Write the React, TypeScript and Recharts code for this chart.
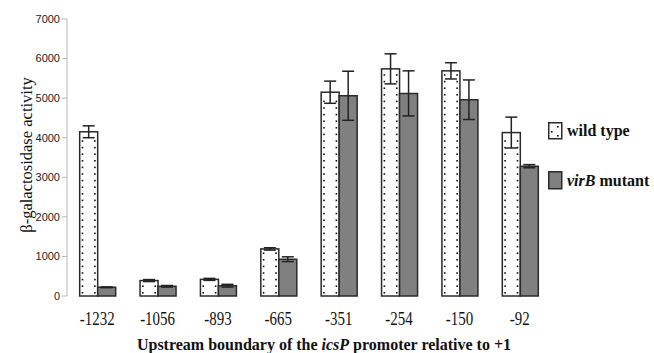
import React from "react";
import { BarChart, Bar, XAxis, YAxis, ErrorBar, Legend } from "recharts";

const categories = ["-1232", "-1056", "-893", "-665", "-351", "-254", "-150", "-92"];
const wildType = [4150, 390, 420, 1190, 5150, 5740, 5690, 4130];
const wildTypeErr = [150, 25, 25, 30, 280, 380, 205, 390];
const virBMutant = [220, 245, 260, 930, 5060, 5120, 4960, 3280];
const virBMutantErr = [10, 20, 35, 60, 620, 570, 500, 40];
const yTicks = [0, 1000, 2000, 3000, 4000, 5000, 6000, 7000];
const boundaryTicks = [0, 1, 2, 3, 4, 5, 6, 7, 8];

const data = categories.map((c, i) => ({
  pos: c,
  wt: wildType[i],
  wtErr: wildTypeErr[i],
  mut: virBMutant[i],
  mutErr: virBMutantErr[i],
}));

const SERIF = "Liberation Serif";
const SANS = "Liberation Sans";
const AXIS = "#b4b4b4";

// white bar with two columns of dots
function DottedBar(props: any) {
  const { x, y, width, height } = props;
  if (!height || height <= 0) return null;
  const dots = [];
  for (let yy = y + height - 4; yy > y + 2; yy -= 6.6) {
    dots.push(<rect key={`a${yy}`} x={x + 2} y={yy} width={1.6} height={1.6} fill="#111" />);
    dots.push(<rect key={`b${yy}`} x={x + width - 3.6} y={yy} width={1.6} height={1.6} fill="#111" />);
  }
  return (
    <g>
      <rect x={x} y={y} width={width} height={height} fill="#fff" stroke="#2a2a2a" strokeWidth={1.5} />
      {dots}
    </g>
  );
}

function XTick(props: any) {
  const { x, payload } = props;
  return (
    <text
      transform={`translate(${x},325) scale(0.83,1)`}
      textAnchor="middle"
      fontFamily={SERIF}
      fontSize={18}
      fill="#111"
    >
      {payload.value}
    </text>
  );
}

function LegendBox() {
  return (
    <svg width={110} height={72} style={{ display: "block" }}>
      <rect x={0.75} y={0.75} width={13} height={16} fill="#fff" stroke="#2a2a2a" strokeWidth={1.5} />
      <rect x={9} y={4} width={1.6} height={1.6} fill="#111" />
      <rect x={3} y={9} width={1.6} height={1.6} fill="#111" />
      <rect x={9} y={13} width={1.6} height={1.6} fill="#111" />
      <text x={19} y={14} fontFamily={SERIF} fontSize={16} fontWeight="bold" fill="#111">
        wild type
      </text>
      <rect x={0.75} y={49.75} width={13} height={17} fill="#808080" stroke="#2a2a2a" strokeWidth={1.5} />
      <text x={19} y={64} fontFamily={SERIF} fontSize={16} fontWeight="bold" fill="#111">
        <tspan fontStyle="italic">virB</tspan> mutant
      </text>
    </svg>
  );
}

export default function App() {
  return (
    <div style={{ position: "absolute", left: 0, top: 0, width: 654, height: 353, background: "#fff" }}>
      <BarChart
        width={654}
        height={353}
        data={data}
        margin={{ top: 19, right: 104, bottom: 0, left: 0 }}
        barCategoryGap="21%"
        barGap={0}
      >
        <XAxis
          xAxisId="grid"
          type="number"
          domain={[0, 8]}
          ticks={boundaryTicks}
          height={0}
          axisLine={{ stroke: AXIS }}
          tickLine={{ stroke: AXIS }}
          tickSize={6}
          tick={() => <g />}
        />
        <XAxis
          xAxisId="cat"
          dataKey="pos"
          height={57}
          axisLine={false}
          tickLine={false}
          tick={<XTick />}
          interval={0}
          label={{
            content: () => (
              <text x={324} y={350} textAnchor="middle" fontFamily={SERIF} fontSize={16} fontWeight="bold" fill="#111">
                Upstream boundary of the <tspan fontStyle="italic">icsP</tspan> promoter relative to +1
              </text>
            ),
          }}
        />
        <YAxis
          width={67}
          domain={[0, 7000]}
          ticks={yTicks}
          interval={0}
          axisLine={{ stroke: AXIS }}
          tickLine={{ stroke: AXIS }}
          tickSize={5}
          tickMargin={2}
          tick={{ fontFamily: SANS, fontSize: 11, fill: "#222" }}
          label={{
            content: () => (
              <text
                transform="translate(32,155) rotate(-90)"
                textAnchor="middle"
                fontFamily={SERIF}
                fontSize={16.5}
                fill="#111"
              >
                β-galactosidase activity
              </text>
            ),
          }}
        />
        <Legend
          layout="vertical"
          align="center"
          verticalAlign="middle"
          content={() => <LegendBox />}
          wrapperStyle={{ left: 548, top: 122, width: 110 }}
        />
        <Bar xAxisId="cat" dataKey="wt" name="wild type" shape={<DottedBar />} isAnimationActive={false}>
          <ErrorBar dataKey="wtErr" width={6} strokeWidth={1.5} stroke="#222" direction="y" />
        </Bar>
        <Bar
          xAxisId="cat"
          dataKey="mut"
          name="virB mutant"
          fill="#808080"
          stroke="#2a2a2a"
          strokeWidth={1.5}
          isAnimationActive={false}
        >
          <ErrorBar dataKey="mutErr" width={6} strokeWidth={1.5} stroke="#222" direction="y" />
        </Bar>
      </BarChart>
    </div>
  );
}
